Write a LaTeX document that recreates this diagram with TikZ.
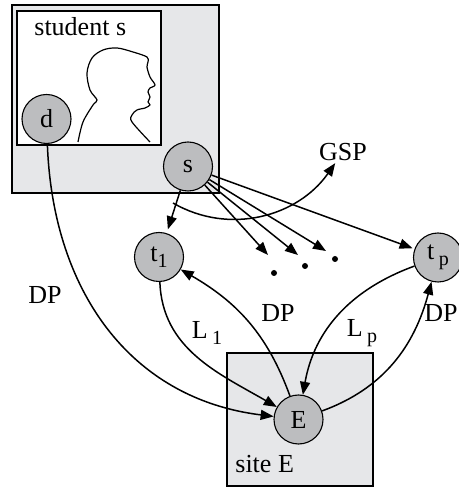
\documentclass[tikz,border=0pt]{standalone}
\usepackage{fontspec}
\setmainfont{Liberation Serif}
\usetikzlibrary{arrows.meta}
\definecolor{boxgray}{RGB}{230,231,233}
\definecolor{nodegray}{RGB}{188,189,191}
\newcommand\lowsub[1]{\raisebox{-0.5ex}{\fontsize{10}{10}\selectfont #1}}
\tikzset{
  txt/.style={font=\fontsize{13}{15}\selectfont, inner sep=1pt},
  agent/.style={circle, draw, line width=0.55pt, fill=nodegray, minimum size=24.5pt, inner sep=0pt, txt},
  panel/.style={draw, line width=0.6pt, fill=boxgray},
  link/.style={line width=0.75pt, -{Triangle[length=6.5pt,width=5pt]}},
  dotmark/.style={circle, fill, inner sep=0pt, minimum size=3pt}
}
\begin{document}
\begin{tikzpicture}[x=0.5pt,y=0.5pt]
\useasboundingbox (0,0) rectangle (459,487);

% student panel with portrait
\draw[panel] (12,294) rectangle (219,482);
\draw[line width=0.6pt, fill=white] (17,342) rectangle (161,476);
\node[txt, anchor=base west] (stud) at (32,451) {student s};
\draw[line width=0.6pt, line join=round] plot[smooth, tension=0.55] coordinates {
  (78,345) (83,365) (93,382) (97,387) (90,397) (87,414) (92,429) (103,437)
  (117,439) (133,435) (147,430) (148,425) (147,420) (150,410) (155,402)
  (150,399) (148,395) (150,390) (148,385) (150,382) (145,379) (137,377)
  (132,372) (132,365) (150,345)};

% site panel
\draw[panel] (227,1) rectangle (373,134);
\node[txt, anchor=base west] (site) at (233,14) {site E};

% agents
\node[agent] (d)  at (46.5,368) {d};
\node[agent] (s)  at (188,320.5) {s};
\node[agent] (t1) at (159,230) {t\lowsub{1}};
\node[agent] (tp) at (438,229.5) {t\,\lowsub{p}};
\node[agent] (E)  at (298.5,67.5) {E};

% global policy
\node[txt] (gsp) at (343,335) {GSP};
\coordinate (gspstart) at (173,284);
\draw[link] (gspstart) to[out=-30,in=-125] (gsp);

% fan of messages towards the remaining targets
\coordinate (c1) at (268,232);
\coordinate (c2) at (298,232);
\coordinate (c3) at (326,236);
\node[dotmark] (dot1) at (274,214) {};
\node[dotmark] (dot2) at (305,221) {};
\node[dotmark] (dot3) at (335,228) {};
\draw[link] (s) -- (c1);
\draw[link] (s) -- (c2);
\draw[link] (s) -- (c3);
\draw[link, shorten >=2pt] (s) -- (t1);
\draw[link, shorten >=1pt] (s) -- (tp);

% links to and from the site
\draw[link] (d) to[out=-88,in=173,looseness=1.05] (E);
\draw[link] (t1) to[out=-88,in=150] (E);
\draw[link] (E) to[out=110,in=-30] (t1);
\draw[link] (tp) to[out=200,in=80] (E);
\draw[link] (E) to[out=20,in=-105] (tp);

% edge labels
\node[txt] (dpl) at (45,192) {DP};
\node[txt] (l1)  at (207,154) {L\,\lowsub{1}};
\node[txt] (dpm) at (278,174) {DP};
\node[txt] (lp)  at (362,154) {L\,\lowsub{p}};
\node[txt] (dpr) at (441,174) {DP};
\end{tikzpicture}
\end{document}
